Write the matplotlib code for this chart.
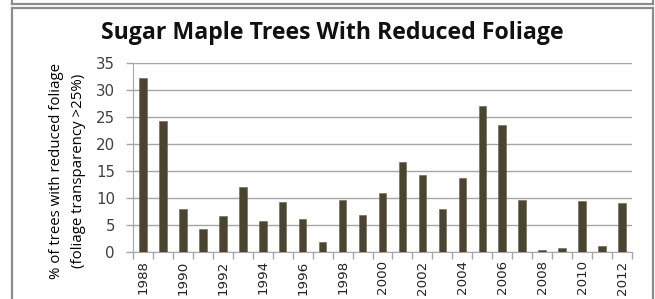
import numpy as np
import matplotlib.pyplot as plt
from matplotlib.lines import Line2D

# Datos
years = list(range(1988, 2013))
pct_reduced = [32.2, 24.2, 7.9, 4.2, 6.7, 12.0, 5.8, 9.2, 6.1, 1.9,
               9.7, 6.9, 10.9, 16.7, 14.3, 8.0, 13.7, 27.0, 23.6, 9.6,
               0.3, 0.8, 9.5, 1.1, 9.1]
year_labels = [str(y) if y % 2 == 0 else "" for y in years]

W, H = 655, 299
fig = plt.figure(figsize=(W / 100, H / 100), dpi=100)
fig.patch.set_facecolor("white")

# Marcos grises
border = "#8c8c8c"
def fx(px):
    return px / W
def fy(py):
    return 1 - py / H
fig.add_artist(Line2D([fx(12), fx(653)], [fy(3.5), fy(3.5)], color=border, lw=1.6))
fig.add_artist(Line2D([fx(12), fx(12)], [fy(0), fy(3.5)], color=border, lw=1.6))
fig.add_artist(Line2D([fx(653), fx(653)], [fy(0), fy(3.5)], color=border, lw=1.6))
fig.add_artist(Line2D([fx(12), fx(653)], [fy(8), fy(8)], color=border, lw=1.6))
fig.add_artist(Line2D([fx(12), fx(12)], [fy(8), fy(300)], color=border, lw=1.6))
fig.add_artist(Line2D([fx(653), fx(653)], [fy(8), fy(300)], color=border, lw=1.6))

ax = fig.add_axes([133 / W, 1 - 252 / H, (632 - 133) / W, (252 - 63) / H])
x = np.arange(len(years))
ax.bar(x, pct_reduced, width=0.38, color="#4b4430", edgecolor="#6a6450",
       linewidth=0.4, zorder=3)

ax.set_xlim(-0.5, len(years) - 0.5)
ax.set_ylim(0, 35)
ax.set_yticks(np.arange(0, 36, 5))
ax.grid(axis="y", color="#a6a6a6", lw=1.0, zorder=0)

ax.set_xticks(x)
ax.set_xticklabels(year_labels, rotation=90, fontsize=9.6, family="DejaVu Sans",
                   color="#222222")
ax.set_xticks(np.arange(-0.5, len(years)), minor=True)
ax.tick_params(axis="x", which="major", length=0, pad=6)
ax.tick_params(axis="x", which="minor", length=5, color="#a6a6a6", width=1)
ax.tick_params(axis="y", length=5, color="#a6a6a6", width=1, labelsize=10.8,
               labelcolor="#404040", pad=8)
for lbl in ax.get_yticklabels():
    lbl.set_family("DejaVu Sans")

for s in ["top", "right"]:
    ax.spines[s].set_visible(False)
ax.spines["left"].set_color("#a6a6a6")
ax.spines["bottom"].set_color("#a6a6a6")

fig.text(332 / W, 1 - 33 / H, "Sugar Maple Trees With Reduced Foliage",
         ha="center", va="center", fontsize=16.7, fontweight="bold",
         family="Open Sans", color="#111111")
fig.text(67.5 / W, 1 - 171 / H, "% of trees with reduced foliage\n(foliage transparency >25%)",
         ha="center", va="center", rotation=90, fontsize=10.8,
         family="Open Sans", color="#000000", linespacing=1.55)

fig.savefig("out.png", dpi=100)
